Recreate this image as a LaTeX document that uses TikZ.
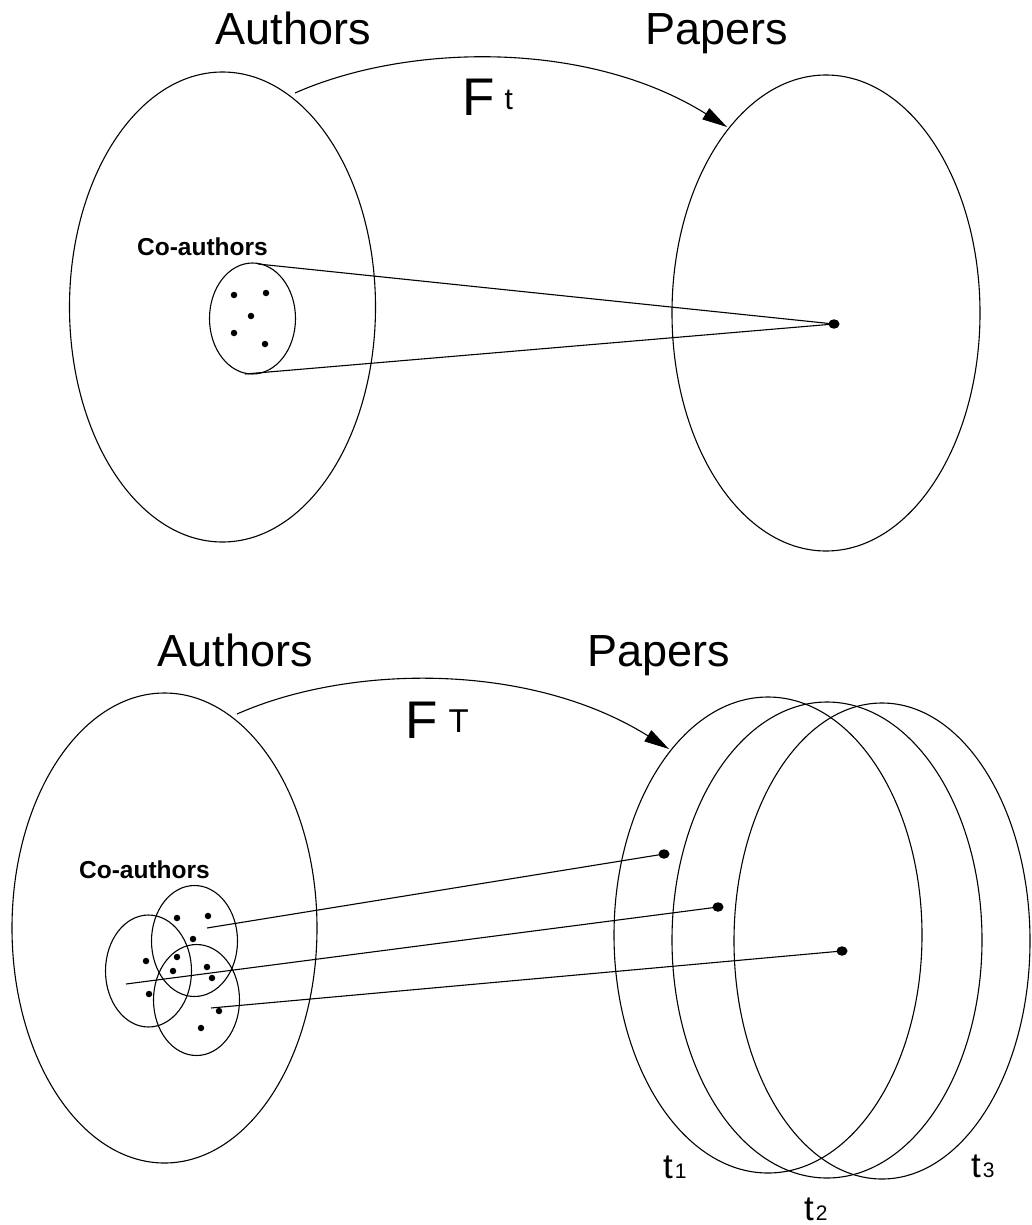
\documentclass[tikz,border=0pt]{standalone}
\usepackage{fontspec}
\setmainfont{Liberation Sans}
\usetikzlibrary{shapes.geometric,arrows.meta}
\begin{document}
\begin{tikzpicture}[x=1pt,y=-1pt]
\tikzset{
  oval/.style 2 args={draw, ellipse, line width=1.1pt, inner sep=0pt, minimum width=#1pt, minimum height=#2pt},
  sdot/.style={fill, circle, inner sep=0pt, minimum size=6.5pt},
  pdot/.style={fill, ellipse, inner sep=0pt, minimum width=11pt, minimum height=9.5pt},
  link/.style={line width=1.1pt},
  arr/.style={line width=1.1pt, -{Triangle[length=25pt,width=13pt]}},
  title/.style={inner sep=0pt, anchor=base, font=\fontsize{45}{54}\selectfont},
  colab/.style={inner sep=0pt, anchor=base, font=\bfseries\fontsize{24.5}{28}\selectfont},
  flab/.style={inner sep=0pt, anchor=base west},
}
\useasboundingbox (0,0) rectangle (1031,1225);

% ---------------- top picture ----------------
\node[title] (aut1) at (293.5,45) {Authors};
\node[title] (pap1) at (717,45) {Papers};
\node[oval={306}{470}] (A1) at (222.5,307) {};
\node[oval={308}{476}] (P1) at (826,313) {};
\node[oval={86}{111}] (C1) at (252.5,318.5) {};
\node[colab] (cl1) at (202.5,255) {Co-authors};
\node[sdot] (d11) at (234,295) {};
\node[sdot] (d12) at (266,293) {};
\node[sdot] (d13) at (251,316) {};
\node[sdot] (d14) at (234,333) {};
\node[sdot] (d15) at (265,344) {};
\node[pdot] (pd1) at (834,324) {};
\coordinate (s1a) at (258,264);
\coordinate (s1b) at (245,374);
\draw[link] (s1a) -- (pd1.center);
\draw[link] (s1b) -- (pd1.center);
\coordinate (st1) at (295,93);
\coordinate (tp1) at (727,127);
\draw[arr] (st1) .. controls +(113,-50) and +(-139,-87) .. (tp1);
\node[flab] (F1) at (462,116) {\fontsize{53}{60}\selectfont F\hspace{10pt}\raisebox{6pt}{\fontsize{30}{34}\selectfont t}};

% ---------------- bottom picture ----------------
\node[title] (aut2) at (235.5,666) {Authors};
\node[title] (pap2) at (659,666) {Papers};
\node[oval={305}{470}] (A2) at (164.5,928) {};
\node[oval={86}{111}] (C2) at (194.5,941) {};
\node[oval={86}{112}] (C3) at (148.5,971) {};
\node[oval={86}{111}] (C4) at (196.5,1000) {};
\node[colab] (cl2) at (144.5,878) {Co-authors};
\node[sdot] (d21) at (177,918) {};
\node[sdot] (d22) at (208,916) {};
\node[sdot] (d23) at (193,939) {};
\node[sdot] (d24) at (146,961) {};
\node[sdot] (d25) at (177,957) {};
\node[sdot] (d26) at (173,971) {};
\node[sdot] (d27) at (207,967) {};
\node[sdot] (d28) at (212,978) {};
\node[sdot] (d29) at (149,994) {};
\node[sdot] (d30) at (219,1011) {};
\node[sdot] (d31) at (201,1028) {};

\node[oval={308}{476}] (E1) at (768,935) {};
\node[oval={310}{476}] (E2) at (827,940) {};
\node[oval={296}{476}] (E3) at (882,941) {};
\node[pdot] (q1) at (664,854) {};
\node[pdot] (q2) at (718,907) {};
\node[pdot] (q3) at (842,951) {};
\coordinate (s2a) at (207,928);
\coordinate (s2b) at (126,984);
\coordinate (s2c) at (211,1008);
\draw[link] (s2a) -- (q1.center);
\draw[link] (s2b) -- (q2.center);
\draw[link] (s2c) -- (q3.center);

\coordinate (st2) at (237,714);
\coordinate (tp2) at (669,749);
\draw[arr] (st2) .. controls +(113,-50) and +(-139,-87) .. (tp2);
\node[flab] (F2) at (405,738) {\fontsize{53}{60}\selectfont F\hspace{11pt}\raisebox{6pt}{\fontsize{33}{38}\selectfont T}};

\node[flab] (t1) at (663,1178) {\fontsize{35}{40}\selectfont t\hspace{2pt}\fontsize{21}{24}\selectfont 1};
\node[flab] (t2) at (804,1220) {\fontsize{35}{40}\selectfont t\hspace{2pt}\fontsize{21}{24}\selectfont 2};
\node[flab] (t3) at (971,1177) {\fontsize{35}{40}\selectfont t\hspace{2pt}\fontsize{21}{24}\selectfont 3};
\end{tikzpicture}
\end{document}
